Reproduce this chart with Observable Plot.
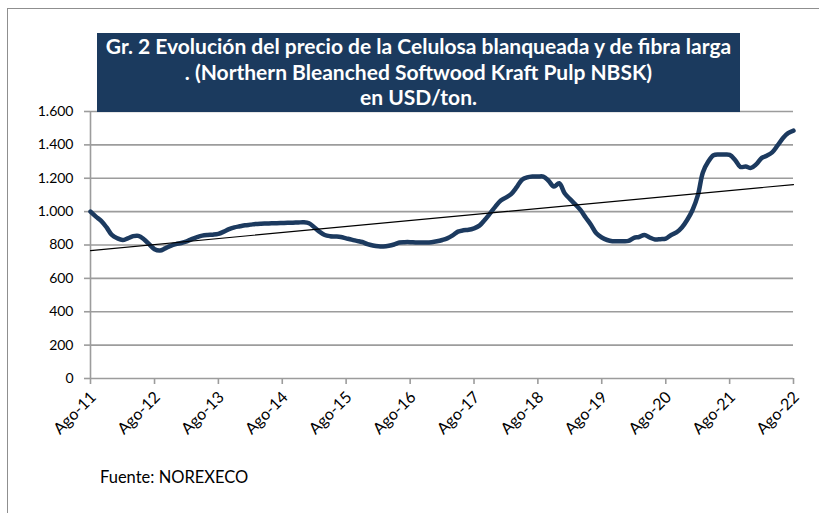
<!DOCTYPE html>
<html>
<head>
<meta charset="utf-8">
<script src="https://cdn.jsdelivr.net/npm/d3@7"></script>
<script src="https://cdn.jsdelivr.net/npm/@observablehq/plot@0.6"></script>
<style>
  html, body { margin: 0; padding: 0; background: #fff; }
  #wrap { position: relative; width: 819px; height: 513px; overflow: hidden; background: #fff; }
  #frame { position: absolute; left: 7px; top: 8px; width: 900px; height: 600px; border: 1px solid #8f8f8f; box-sizing: border-box; }
  #title { position: absolute; left: 97px; top: 33px; width: 643px; height: 79px; background: #1b3a5e; color: #fff;
           font-family: Lato, "Liberation Sans", sans-serif; font-weight: bold; font-size: 21px; line-height: 25.5px;
           text-align: center; padding-top: 0px; box-sizing: border-box; z-index: 2; white-space: nowrap; }
  #caption { position: absolute; left: 100px; top: 467px; font-family: Lato, "Liberation Sans", sans-serif; font-size: 16.5px; color: #000; z-index: 2; }
  #chart { position: absolute; left: 0; top: 0; z-index: 1; }
</style>
</head>
<body>
<div id="wrap">
  <div id="frame"></div>
  <div id="chart"></div>
  <div id="title"></div>
  <div id="caption"></div>
</div>
<script>
// ---- Data (monthly, Aug 2011 .. Aug 2022), USD/ton ----
const startYear = 2011;
const startMonth = 7; // August (0-based)
const prices = [
  1000, 970, 945, 905, 860, 840, 830, 840, 853, 855, 835, 805,
  775, 767, 780, 795, 805, 812, 822, 835, 847, 856, 860, 862,
  867, 880, 895, 906, 912, 918, 922, 926, 928, 929, 930, 931,
  932, 933, 934, 935, 936, 930, 905, 880, 860, 853, 851, 848,
  840, 832, 825, 818, 805, 797, 792, 791, 795, 803, 815, 817,
  817, 815, 815, 815, 817, 822, 830, 840, 858, 880, 888, 891,
  900, 916, 950, 990, 1030, 1066, 1085, 1105, 1145, 1190, 1205, 1210,
  1210, 1210, 1185, 1150, 1170, 1110, 1075, 1045, 1010, 965, 920, 870,
  845, 830, 823, 823, 823, 825, 843, 848, 860, 845, 833, 835,
  838, 860, 875, 905, 950, 1010, 1100, 1235, 1300, 1338, 1342, 1342,
  1340, 1310, 1268, 1270, 1262, 1285, 1322, 1335, 1355, 1395, 1440, 1470,
  1485
];
const yTicks = [0, 200, 400, 600, 800, 1000, 1200, 1400, 1600];
const tickYears = [2011, 2012, 2013, 2014, 2015, 2016, 2017, 2018, 2019, 2020, 2021, 2022];
const xTickLabels = ["Ago-11", "Ago-12", "Ago-13", "Ago-14", "Ago-15", "Ago-16", "Ago-17", "Ago-18", "Ago-19", "Ago-20", "Ago-21", "Ago-22"];
const titleLines = [
  "Gr. 2 Evolución del precio de la Celulosa blanqueada y de fibra larga",
  ". (Northern Bleanched Softwood Kraft Pulp NBSK)",
  "en USD/ton."
];
const captionText = "Fuente: NOREXECO";

// ---- Build ----
const data = prices.map((v, i) => ({ date: new Date(Date.UTC(startYear, startMonth + i, 1)), price: v }));
const tickDates = tickYears.map(y => new Date(Date.UTC(y, startMonth, 1)));
const fmt = d3.formatLocale({ decimal: ",", thousands: ".", grouping: [3], currency: ["", ""] }).format(",");
const xLabel = d => xTickLabels[tickYears.indexOf(d.getUTCFullYear())];

const grid = "#9c9c9c";
const chart = Plot.plot({
  width: 819,
  height: 513,
  marginLeft: 90,
  marginRight: 26,
  marginTop: 111,
  marginBottom: 135,
  style: { fontFamily: "Lato, 'Liberation Sans', sans-serif", fontSize: "14px", color: "#000", background: "transparent" },
  x: { type: "utc", domain: [tickDates[0], tickDates[tickDates.length - 1]], label: null },
  y: { domain: [0, 1600], label: null },
  marks: [
    Plot.ruleY(yTicks, { stroke: grid, strokeWidth: 1.6 }),
    Plot.ruleX([tickDates[0]], { stroke: grid, strokeWidth: 1.6 }),
    Plot.axisY({ ticks: yTicks, tickFormat: fmt, tickSize: 6, tickPadding: 11, stroke: grid, fill: "#000", strokeWidth: 1.6, label: null }),
    Plot.axisX({ ticks: tickDates, tickFormat: () => "", tickSize: 6, stroke: grid, strokeWidth: 1.6, label: null }),
    Plot.axisX({
      ticks: tickDates, tickFormat: xLabel,
      tickRotate: -45, tickSize: 0, tickPadding: 16, dx: 3, fill: "#000", fontSize: 16, label: null
    }),
    Plot.line(data, { x: "date", y: "price", stroke: "#1c3a5f", strokeWidth: 4.5, curve: "catmull-rom", strokeLinejoin: "round", strokeLinecap: "round" }),
    Plot.linearRegressionY(data, { x: "date", y: "price", ci: 0, stroke: "#000", strokeWidth: 1.2 })
  ]
});
document.getElementById("chart").appendChild(chart);
document.getElementById("title").innerHTML = titleLines.map(t => `<div>${t}</div>`).join("");
document.getElementById("caption").textContent = captionText;
</script>
</body>
</html>
